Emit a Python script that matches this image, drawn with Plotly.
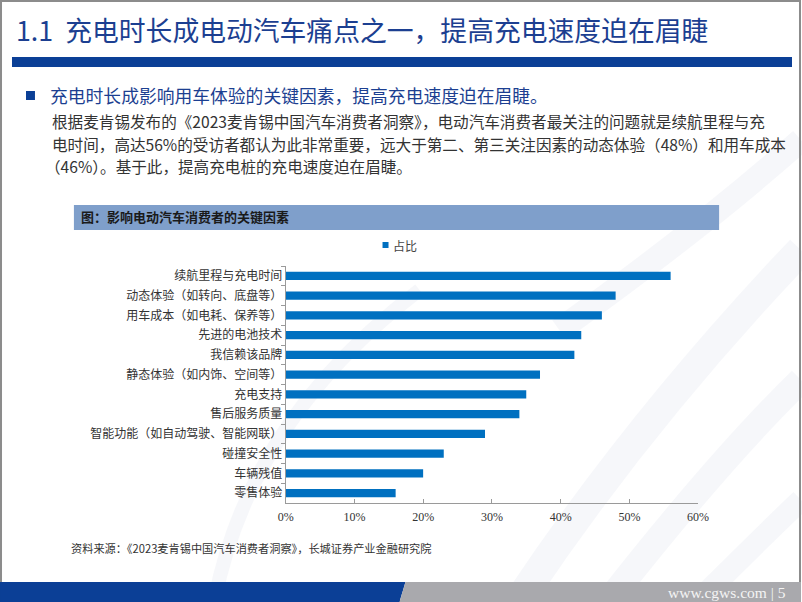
import plotly.graph_objects as go

W, H = 802, 602
# horizontal placement calibration observed for the renderer: picture_x = 8 + 784 * paper_x
X0, XW = 8, 784

categories = ["续航里程与充电时间", "动态体验（如转向、底盘等）", "用车成本（如电耗、保养等）",
              "先进的电池技术", "我信赖该品牌", "静态体验（如内饰、空间等）", "充电支持",
              "售后服务质量", "智能功能（如自动驾驶、智能网联）", "碰撞安全性", "车辆残值", "零售体验"]
values = [0.56, 0.48, 0.46, 0.43, 0.42, 0.37, 0.35, 0.34, 0.29, 0.23, 0.20, 0.16]
series_name = "占比"
x_ticks = [0, 0.1, 0.2, 0.3, 0.4, 0.5, 0.6]
x_tick_labels = ["0%", "10%", "20%", "30%", "40%", "50%", "60%"]

FONT = "Noto Sans CJK SC"


def px(x):
    return (x - X0) / XW


def py(y):
    return 1 - y / H


fig = go.Figure()
fig.add_trace(go.Bar(
    y=categories, x=values, orientation="h", name=series_name,
    marker=dict(color="#0070C0", line=dict(width=0)),
    showlegend=False,
))

shapes = []
# faint diagonal background stripes
for (a, b, c, w) in [((520, 600), (640, 420), (802, 250), 30),
                     ((610, 600), (720, 460), (802, 380), 26),
                     ((560, 330), (700, 230), (802, 140), 24),
                     ((700, 600), (760, 540), (802, 500), 22)]:
    shapes.append(dict(type="path", xref="paper", yref="paper", layer="below",
                       path=f"M {px(a[0])} {py(a[1])} Q {px(b[0])} {py(b[1])} {px(c[0])} {py(c[1])}",
                       line=dict(color="rgba(238,240,245,0.55)", width=w)))
shapes.append(dict(type="path", xref="paper", yref="paper", layer="below",
                   path=f"M {px(215)} {py(600)} Q {px(250)} {py(420)} {px(420)} {py(290)}",
                   line=dict(color="rgba(238,240,245,0.5)", width=14)))
# page frame
shapes.append(dict(type="rect", xref="paper", yref="paper", x0=px(1), x1=px(801), y0=py(601), y1=py(1),
                   line=dict(color="#8c8c8c", width=2), fillcolor="rgba(0,0,0,0)", layer="above"))
# title band
shapes.append(dict(type="rect", xref="paper", yref="paper", x0=px(12), x1=px(793), y0=py(67), y1=py(57),
                   line=dict(width=0), fillcolor="#0B3F96"))
# bullet square
shapes.append(dict(type="rect", xref="paper", yref="paper", x0=px(26), x1=px(35), y0=py(100), y1=py(91),
                   line=dict(width=0), fillcolor="#0B3F96"))
# chart header bar
shapes.append(dict(type="rect", xref="paper", yref="paper", x0=px(74), x1=px(720), y0=py(230), y1=py(205),
                   line=dict(width=0), fillcolor="#7F9FCB"))
# legend swatch
shapes.append(dict(type="rect", xref="paper", yref="paper", x0=px(383), x1=px(389), y0=py(248), y1=py(242),
                   line=dict(width=0), fillcolor="#0070C0"))
# bottom bands
shapes.append(dict(type="path", xref="paper", yref="paper",
                   path=f"M {px(0)} {py(582)} L {px(406)} {py(582)} L {px(400)} {py(602)} L {px(0)} {py(602)} Z",
                   line=dict(width=0), fillcolor="#0B3F96"))
shapes.append(dict(type="path", xref="paper", yref="paper",
                   path=f"M {px(406)} {py(582)} L {px(802)} {py(582)} L {px(802)} {py(602)} L {px(400)} {py(602)} Z",
                   line=dict(width=0), fillcolor="#A9A9AD"))

annotations = []


def text(x, y, s, size, color, xanchor="left", family=FONT, bold=False):
    if bold:
        s = f"<b>{s}</b>"
    annotations.append(dict(x=px(x), y=py(y), xref="paper", yref="paper", text=s, showarrow=False,
                            xanchor=xanchor, yanchor="middle", align="left", borderpad=0,
                            font=dict(size=size, color=color, family=family)))


text(15, 29, "1.1  充电时长成电动汽车痛点之一，提高充电速度迫在眉睫", 26.8, "#1C3F91")
text(49, 95, "充电时长成影响用车体验的关键因素，提高充电速度迫在眉睫。", 17.8, "#1C3F91")
text(51, 121, "根据麦肯锡发布的《2023麦肯锡中国汽车消费者洞察》，电动汽车消费者最关注的问题就是续航里程与充", 15.6, "#333333")
text(51, 144, "电时间，高达56%的受访者都认为此非常重要，远大于第二、第三关注因素的动态体验（48%）和用车成本", 15.6, "#333333")
text(44, 166, "（46%）。基于此，提高充电桩的充电速度迫在眉睫。", 15.6, "#333333")
text(80, 217, "图：影响电动汽车消费者的关键因素", 13, "#1a1a1a", bold=True)
text(392, 245, series_name, 12, "#444444")
text(70, 548, "资料来源：《2023麦肯锡中国汽车消费者洞察》，长城证券产业金融研究院", 11.2, "#333333")
text(788, 592, "www.cgws.com | 5", 15.5, "#f4f4f4", xanchor="right", family="Liberation Serif")

fig.update_layout(
    width=W, height=H,
    margin=dict(l=0, r=0, t=0, b=0),
    paper_bgcolor="white", plot_bgcolor="rgba(0,0,0,0)",
    font=dict(family=FONT, size=12, color="#333333"),
    bargap=0.58,
    showlegend=False,
    shapes=shapes,
    annotations=annotations,
    xaxis=dict(domain=[px(286), px(699)], range=[0, 0.6], tickvals=x_ticks, ticktext=x_tick_labels,
               showgrid=False, zeroline=False, showline=True, linecolor="#9a9a9a", linewidth=1,
               ticks="inside", ticklen=4, tickcolor="#9a9a9a", ticklabelstandoff=3,
               tickfont=dict(size=12, color="#333333", family="Liberation Serif")),
    yaxis=dict(domain=[py(503), py(266)], autorange="reversed", type="category",
               showgrid=False, zeroline=False, showline=True, linecolor="#9a9a9a", linewidth=1,
               ticks="outside", ticklen=4, tickcolor="#9a9a9a", tickson="boundaries",
               tickfont=dict(size=12, color="#333333")),
)

fig.write_html("out.html")
